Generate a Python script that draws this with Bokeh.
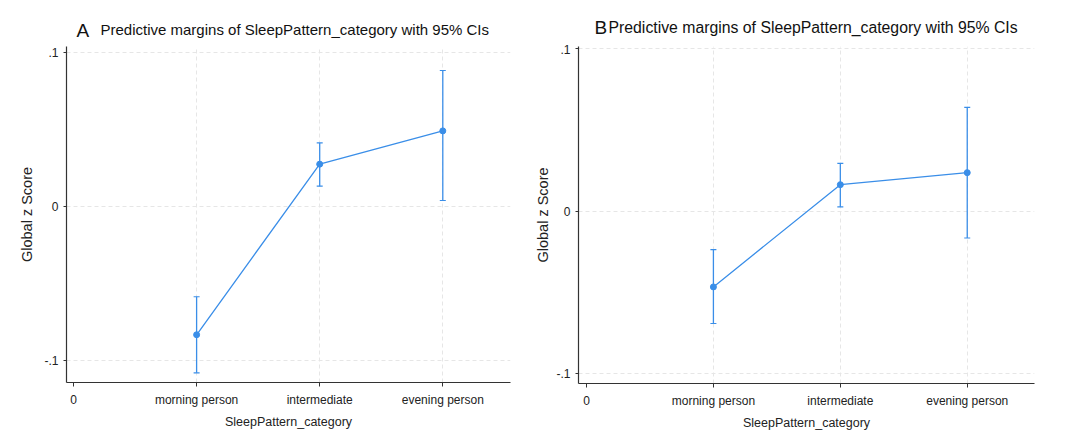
from bokeh.plotting import figure
from bokeh.models import ColumnDataSource, FixedTicker, Whisker, TeeHead, Range1d
from bokeh.layouts import row, column
from bokeh.core.properties import value
from bokeh.embed import file_html
from bokeh.resources import INLINE

categories = ["morning person", "intermediate", "evening person"]
cat_pos = [1, 2, 3]
x_tick_labels = {0: "0", 1: "morning person", 2: "intermediate", 3: "evening person"}
y_ticks = [-0.1, 0, 0.1]
y_tick_labels = {-0.1: "-.1", 0: "0", 0.1: ".1"}

a_margin = [-0.0833, 0.0275, 0.0491]
a_lower = [-0.108, 0.0132, 0.0039]
a_upper = [-0.0586, 0.0413, 0.0883]

b_margin = [-0.0465, 0.0164, 0.0238]
b_lower = [-0.069, 0.0027, -0.0164]
b_upper = [-0.0236, 0.0295, 0.0639]

BLUE = "#3a8ee8"
FONT = "Liberation Sans"
TITLE = "Predictive margins of SleepPattern_category with 95% CIs"
TITLE_H = 44


def make_title(letter, width, bl, br, letter_xy, text_xy, size):
    t = figure(width=width, height=TITLE_H, output_backend="svg", toolbar_location=None,
               x_range=Range1d(bl, width - br), y_range=Range1d(0, TITLE_H),
               min_border_left=bl, min_border_right=br,
               min_border_top=0, min_border_bottom=0)
    t.axis.visible = False
    t.grid.visible = False
    t.outline_line_color = None
    t.text(x=[letter_xy[0]], y=[letter_xy[1]], text=[letter], text_font=value(FONT),
           text_font_size="19px", text_color="#111111", text_baseline="middle")
    t.text(x=[text_xy[0]], y=[text_xy[1]], text=[TITLE], text_font=value(FONT),
           text_font_size=size, text_color="#111111", text_baseline="middle")
    return t


def make_panel(margin, lower, upper, width, height, borders, xr, yr, ylab_standoff):
    p = figure(width=width, height=height, output_backend="svg", toolbar_location=None,
               x_range=Range1d(*xr), y_range=Range1d(*yr),
               min_border_left=borders[0], min_border_right=borders[1],
               min_border_top=borders[2], min_border_bottom=borders[3])
    p.outline_line_color = None

    src = ColumnDataSource(dict(x=cat_pos, y=margin, lo=lower, hi=upper))
    p.line("x", "y", source=src, line_color=BLUE, line_width=1.3)
    w = Whisker(base="x", lower="lo", upper="hi", source=src, line_color=BLUE, line_width=1.3,
                upper_head=TeeHead(size=6, line_color=BLUE, line_width=1.2),
                lower_head=TeeHead(size=6, line_color=BLUE, line_width=1.2))
    p.add_layout(w)
    p.scatter("x", "y", source=src, size=6, color=BLUE)

    p.xaxis.ticker = FixedTicker(ticks=list(x_tick_labels.keys()))
    p.xaxis.major_label_overrides = x_tick_labels
    p.yaxis.ticker = FixedTicker(ticks=y_ticks)
    p.yaxis.major_label_overrides = y_tick_labels
    for ax in (p.xaxis, p.yaxis):
        ax.axis_line_color = "#333333"
        ax.axis_line_width = 1.2
        ax.major_tick_line_color = "#333333"
        ax.major_tick_out = 4
        ax.major_tick_in = 0
        ax.minor_tick_line_color = None
        ax.major_label_text_font = FONT
        ax.major_label_text_font_size = "12px"
        ax.major_label_text_color = "#222222"
        ax.axis_label_text_font = FONT
        ax.axis_label_text_font_style = "normal"
        ax.axis_label_text_color = "#222222"
    p.xaxis.axis_label = "SleepPattern_category"
    p.xaxis.axis_label_text_font_size = "12.5px"
    p.xaxis.major_label_standoff = 6
    p.xaxis.axis_label_standoff = 5
    p.yaxis.axis_label = "Global z Score"
    p.yaxis.axis_label_text_font_size = "14.5px"
    p.yaxis.major_label_standoff = 5
    p.yaxis.axis_label_standoff = ylab_standoff
    p.yaxis.major_tick_out = 3

    p.xgrid.ticker = FixedTicker(ticks=cat_pos)
    p.ygrid.ticker = FixedTicker(ticks=y_ticks)
    for g in (p.xgrid, p.ygrid):
        g.grid_line_color = "#e6e6e6"
        g.grid_line_dash = "4 3"
        g.grid_line_width = 1
    return p


H = 435 - TITLE_H
WA, WB = 532, 548
# panel A: frame spans page x 66..510, panel B: 578..1034
ta = make_title("A", WA, 66, 22, (76, 14), (100, 15), "15px")
pa = make_panel(a_margin, a_lower, a_upper, WA, H, (66, 22, 2, 53),
                (-0.057, 3.55), (-0.1143, 0.1039), 6)
tb = make_title("B", WB, 46, 46, (62, 17), (76, 17.5), "15.8px")
pb = make_panel(b_margin, b_lower, b_upper, WB, H, (46, 46, 2, 52),
                (-0.063, 3.53), (-0.1059, 0.1014), 2)

layout = row(column(ta, pa), column(tb, pb))
open("out.html", "w").write(file_html(layout, INLINE))
